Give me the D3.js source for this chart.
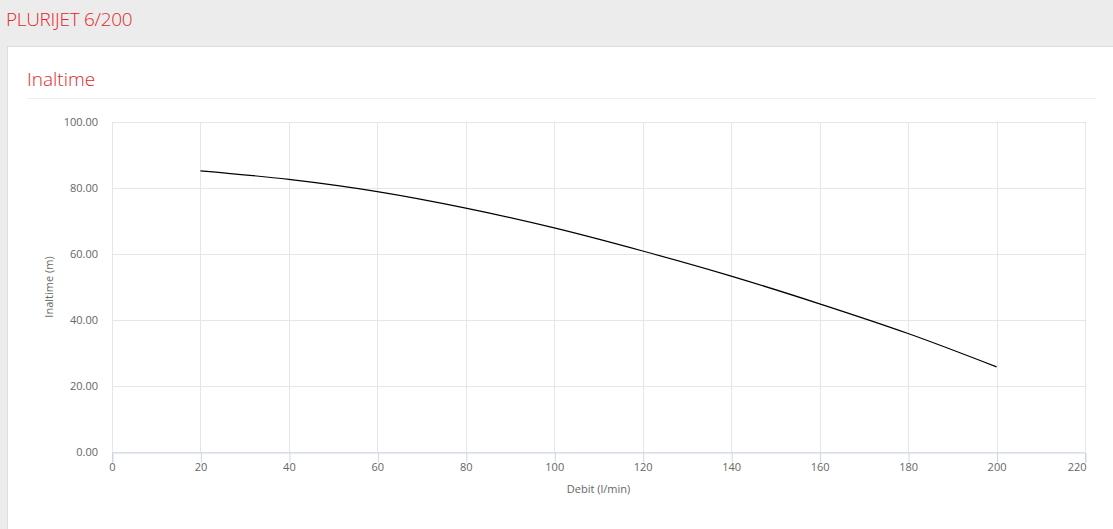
<!DOCTYPE html>
<html>
<head>
  <meta charset="UTF-8">
  <title>PLURIJET 6/200</title>
  <script src="https://d3js.org/d3.v7.min.js"></script>
  <style>
    body { margin: 0; background: #ececec; font-family: "Open Sans", sans-serif; overflow: hidden; }
    .page-title { position: absolute; left: 6px; top: 6px; font-size: 19px; font-weight: 300; color: #e3262b; letter-spacing: -0.3px; }
    .card { position: absolute; left: 7px; top: 46px; width: 1120px; height: 500px; background: #fff; border: 1px solid #ddd; }
    .card h3 { position: absolute; left: 19px; top: 19px; margin: 0; font-size: 19px; font-weight: 300; color: #e3262b; }
    .card .rule { position: absolute; left: 19px; top: 51px; width: 1069px; height: 1px; background: #eee; }
    #chart { position: absolute; left: 0; top: 0; }
  </style>
</head>
<body>
<div class="page-title">PLURIJET 6/200</div>
<div class="card">
  <h3>Inaltime</h3>
  <div class="rule"></div>
</div>
<svg id="chart"></svg>

<script>
// curve values
const flow = [20, 40, 60, 80, 100, 120, 140, 160, 180, 200];
const head = [85.2, 82.6, 78.9, 73.9, 67.9, 60.9, 53.3, 44.9, 35.9, 25.8];
const xTicks = [0, 20, 40, 60, 80, 100, 120, 140, 160, 180, 200, 220];
const yTicks = [0, 20, 40, 60, 80, 100];

const width = 1113, height = 529;
const svg = d3.select("#chart").attr("width", width).attr("height", height);

const x = d3.scaleLinear().domain([0, 220]).range([112, 1085]);
const y = d3.scaleLinear().domain([0, 100]).range([452, 122]);

// grid
svg.append("g")
  .selectAll("line.h")
  .data(yTicks)
  .enter().append("line")
    .attr("x1", x(0)).attr("x2", x(220))
    .attr("y1", d => Math.round(y(d)) + 0.5).attr("y2", d => Math.round(y(d)) + 0.5)
    .attr("stroke", "#e6e6e6");

svg.append("g")
  .selectAll("line.v")
  .data(xTicks)
  .enter().append("line")
    .attr("x1", d => Math.round(x(d)) + 0.5).attr("x2", d => Math.round(x(d)) + 0.5)
    .attr("y1", y(100)).attr("y2", y(0))
    .attr("stroke", "#e6e6e6");

// x axis
const xAxis = svg.append("g")
  .attr("transform", "translate(0," + (Math.round(y(0)) + 0.5) + ")")
  .call(d3.axisBottom(x).tickValues(xTicks).tickSize(10).tickPadding(4));
xAxis.select(".domain").attr("stroke", "#ccd6eb");
xAxis.selectAll(".tick line").attr("stroke", "#ccd6eb").attr("transform", "translate(0.5,0)");
xAxis.selectAll("text")
  .attr("fill", "#666")
  .style("font-size", "11px")
  .style("font-family", "Open Sans, sans-serif")
  .attr("dy", "0.35em")
  .attr("y", 15)
  .attr("text-anchor", d => d === 220 ? "end" : "middle")
  .attr("x", d => d === 220 ? 1 : 0);

// y axis labels
svg.append("g")
  .selectAll("text")
  .data(yTicks)
  .enter().append("text")
    .attr("x", 98)
    .attr("y", d => y(d) + 4)
    .attr("text-anchor", "end")
    .attr("fill", "#666")
    .style("font-size", "11px")
    .text(d => d.toFixed(2));

// axis titles
svg.append("text")
  .attr("x", (x(0) + x(220)) / 2)
  .attr("y", 493)
  .attr("text-anchor", "middle")
  .attr("fill", "#666")
  .style("font-size", "11px")
  .text("Debit (l/min)");

svg.append("text")
  .attr("transform", "translate(53," + (y(50)) + ") rotate(-90)")
  .attr("text-anchor", "middle")
  .attr("fill", "#666")
  .style("font-size", "11px")
  .text("Inaltime (m)");

// curve
const line = d3.line()
  .x((d, i) => x(flow[i]))
  .y(d => y(d))
  .curve(d3.curveCatmullRom);

svg.append("path")
  .datum(head)
  .attr("fill", "none")
  .attr("stroke", "#000")
  .attr("stroke-width", 1.2)
  .attr("d", line);
</script>
</body>
</html>
